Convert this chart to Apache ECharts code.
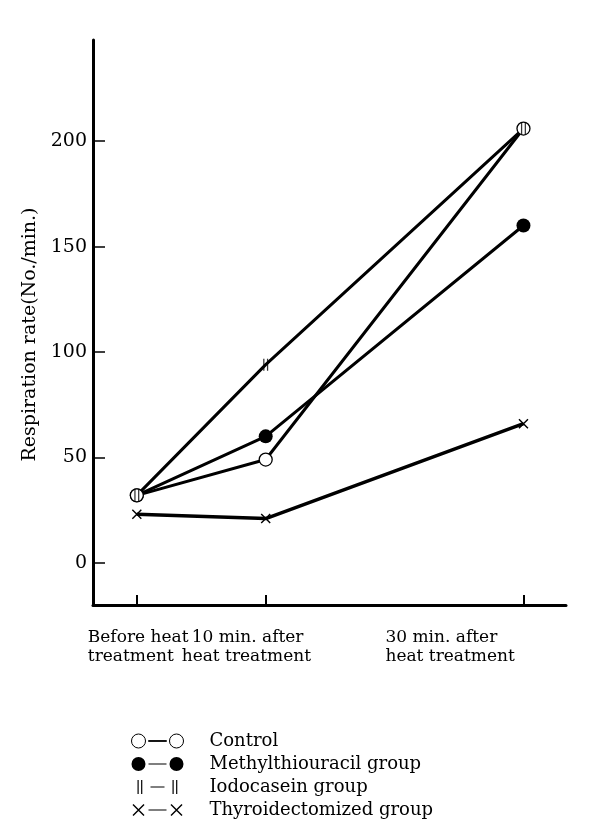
<!DOCTYPE html>
<html>
<head>
<meta charset="utf-8">
<script src="https://cdn.jsdelivr.net/npm/echarts@6/dist/echarts.min.js"></script>
<style>html,body{margin:0;padding:0;background:#fff}#c{width:589px;height:840px}</style>
</head>
<body>
<div id="c"></div>
<script>
// ---- data ----
const timePoints = [0, 10, 30];               // minutes relative to heat treatment
const xLabelLines = [
  ['Before heat', 'treatment'],
  ['10 min. after', 'heat treatment'],
  ['30 min. after', 'heat treatment']
];
const yTicks = [0, 50, 100, 150, 200];
const seriesNames = ['Control', 'Methylthiouracil group', 'Iodocasein group', 'Thyroidectomized group'];
const controlVals = [32, 49, 206];
const methylVals = [32, 60, 160];
const iodoVals = [32, 94, 206];
const thyroidVals = [23, 21, 66];

const pair = vals => timePoints.map((t, i) => [t, vals[i]]);

const FONT = 'DejaVu Serif';
const BARS = 'path://M0,0H1.2V12H0Z M3.6,0H4.8V12H3.6Z';
const CROSS = 'path://M0,1L1,0L10,9L9,10Z M9,0L10,1L1,10L0,9Z';

const ICON_CONTROL = 'path://M0,7A7,7 0 1,1 14,7A7,7 0 1,1 0,7Z M17,6.6H35V7.4H17Z M38,7A7,7 0 1,1 52,7A7,7 0 1,1 38,7Z';
const ICON_METHYL = 'path://M0,7A7,7 0 1,1 14,7A7,7 0 1,1 0,7Z M17,6.4H35V7.6H17Z M38,7A7,7 0 1,1 52,7A7,7 0 1,1 38,7Z';
const ICON_IODO = 'path://M0,0L0.01,0L0,0.01Z M52,14L51.99,14L52,13.99Z M6,0H7.2V14H6Z M9.6,0H10.8V14H9.6Z M19,6.5H33V7.5H19Z M41,0H42.2V14H41Z M44.6,0H45.8V14H44.6Z';
const ICON_THYRO = 'path://M0,0L0.01,0L0,0.01Z M52,14L51.99,14L52,13.99Z M1,2L2,1L13,12L12,13Z M12,1L13,2L2,13L1,12Z M17,6.4H35V7.6H17Z M39,2L40,1L51,12L50,13Z M50,1L51,2L40,13L39,12Z';

// horizontal shift (px) of each label line's left edge relative to its tick
const labelShiftPx = [[-49, -49], [-74, -84], [-138, -138]];

const chart = echarts.init(document.getElementById('c'), null, {renderer: 'canvas'});
chart.setOption({
  animation: false,
  backgroundColor: '#fff',
  grid: {left: 93, right: 23, top: 40, bottom: 235, containLabel: false, outerBoundsMode: 'none'},
  xAxis: {
    type: 'value',
    min: -3.4,
    max: 33.3,
    splitLine: {show: false},
    axisLine: {show: true, onZero: false, lineStyle: {color: '#000', width: 3}},
    axisTick: {show: true, inside: true, length: 10, interval: 0, lineStyle: {color: '#000', width: 2}, customValues: timePoints},
    axisLabel: {show: false}
  },
  yAxis: {
    type: 'value',
    min: -20,
    max: 248,
    name: 'Respiration rate(No./min.)',
    nameLocation: 'middle',
    nameGap: 52,
    nameTextStyle: {fontFamily: FONT, fontSize: 19, color: '#000', padding: [0, 24, 0, 0]},
    splitLine: {show: false},
    axisLine: {show: true, onZero: false, lineStyle: {color: '#000', width: 3}},
    axisTick: {show: true, inside: true, length: 12, lineStyle: {color: '#000', width: 1.5}, customValues: yTicks},
    axisLabel: {show: true, customValues: yTicks, margin: 6, color: '#000', fontFamily: FONT, fontSize: 19}
  },
  legend: {
    orient: 'vertical',
    left: 131,
    top: 731,
    padding: 0,
    itemWidth: 52,
    itemHeight: 14,
    itemGap: 3,
    selectedMode: false,
    textStyle: {fontFamily: FONT, fontSize: 18, color: '#000', lineHeight: 20, padding: [0, 0, 0, 21]},
    data: [
      {name: seriesNames[0], icon: ICON_CONTROL, itemStyle: {color: '#fff', borderColor: '#000', borderWidth: 1}},
      {name: seriesNames[1], icon: ICON_METHYL, itemStyle: {color: '#000', borderColor: '#000', borderWidth: 0}},
      {name: seriesNames[2], icon: ICON_IODO, itemStyle: {color: '#000', borderColor: '#000', borderWidth: 0}},
      {name: seriesNames[3], icon: ICON_THYRO, itemStyle: {color: '#000', borderColor: '#000', borderWidth: 0}}
    ]
  },
  series: [
    {
      name: seriesNames[1], type: 'line', z: 2, data: pair(methylVals),
      symbol: 'circle', symbolSize: 14, showAllSymbol: true,
      itemStyle: {color: '#000'}, lineStyle: {color: '#000', width: 3}
    },
    {
      name: seriesNames[3], type: 'line', z: 2, data: pair(thyroidVals),
      symbol: CROSS, symbolSize: 10, showAllSymbol: true,
      itemStyle: {color: '#000'}, lineStyle: {color: '#000', width: 3.5}
    },
    {
      name: seriesNames[2], type: 'line', z: 2, data: pair(iodoVals),
      showSymbol: false, symbol: BARS,
      itemStyle: {color: '#000'}, lineStyle: {color: '#000', width: 3}
    },
    {
      name: seriesNames[0], type: 'line', z: 3, data: pair(controlVals),
      symbol: 'circle', symbolSize: 13, showAllSymbol: true,
      itemStyle: {color: '#fff', borderColor: '#000', borderWidth: 1.3}, lineStyle: {color: '#000', width: 3}
    },
    {
      name: seriesNames[2], type: 'scatter', z: 5, data: pair(iodoVals),
      symbol: BARS, symbolSize: [5, 12],
      itemStyle: {color: '#000'}
    }
  ]
});

// category labels under the time axis, positioned through the axis scale
const axisY = chart.convertToPixel({yAxisIndex: 0}, -20);
const labelGraphics = [];
timePoints.forEach((t, i) => {
  const tx = chart.convertToPixel({xAxisIndex: 0}, t);
  xLabelLines[i].forEach((line, j) => {
    labelGraphics.push({
      type: 'text',
      x: tx + labelShiftPx[i][j],
      y: axisY + 24 + j * 19,
      style: {
        text: line,
        fontFamily: FONT,
        fontSize: 17,
        fill: '#000',
        align: 'left',
        verticalAlign: 'top'
      }
    });
  });
});
chart.setOption({graphic: labelGraphics});
</script>
</body>
</html>
